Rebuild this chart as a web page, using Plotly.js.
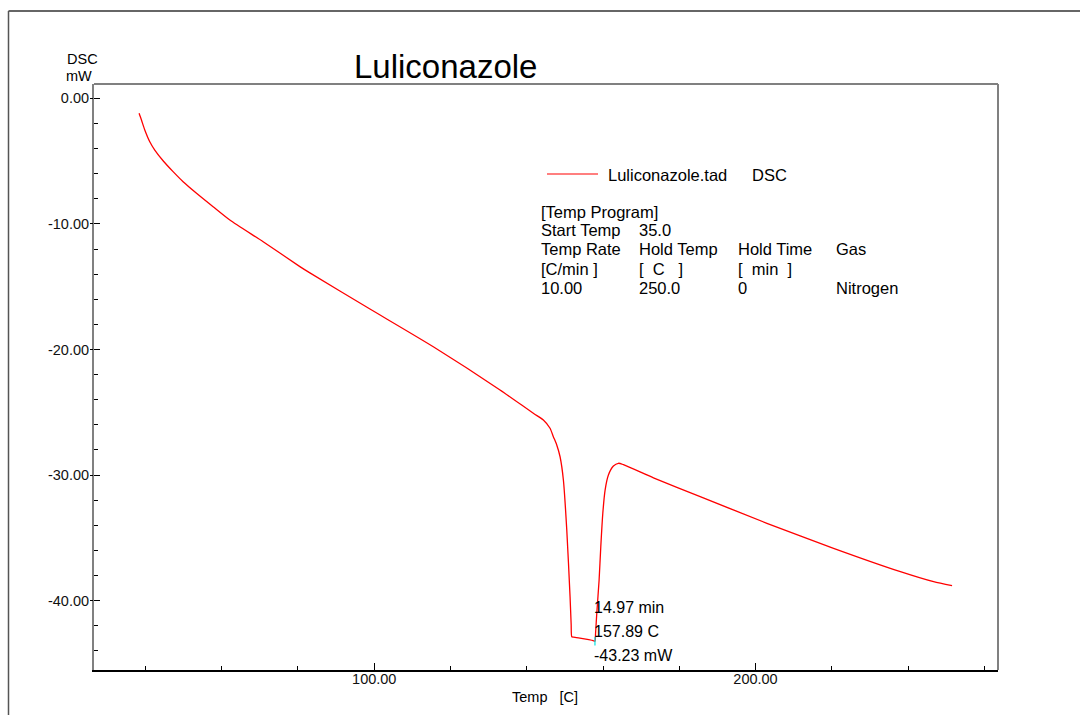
<!DOCTYPE html>
<html>
<head>
<meta charset="utf-8">
<script src="https://cdn.plot.ly/plotly-3.0.1.min.js"></script>
<style>
  html, body { margin: 0; padding: 0; background: #fff; }
  #chart { width: 1080px; height: 715px; }
</style>
</head>
<body>
<div id="chart"></div>
<script>
// ---- Data ----
const temp = [38.32, 38.95, 39.82, 41.13, 42.44, 44.62, 47.24, 49.87, 53.39, 57.74,
  62.13, 70.87, 80.5, 83.12, 98.0, 115.49, 132.99, 141.73, 144.36, 146.11,
  146.98, 147.87, 148.74, 149.61, 150.5, 151.36, 151.65, 151.81, 152.3, 157.4,
  157.89, 158.05, 158.37, 158.98,
  159.42, 159.95, 160.55, 161.42, 162.73, 164.04, 165.35, 173.23, 185.49, 202.99,
  220.47, 238.0, 246.72, 251.55];
const dsc = [-1.19, -1.73, -2.52, -3.46, -4.12, -4.97, -5.84, -6.64, -7.56, -8.63,
  -9.69, -11.42, -13.4, -13.9, -16.62, -19.78, -23.22, -25.08, -25.61, -26.27,
  -26.94, -27.6, -28.54, -30.39, -34.37, -39.68, -41.9, -42.87, -42.9, -43.18,
  -43.23, -42.6, -41.0, -38.35,
  -35.7, -33.04, -31.19, -29.99, -29.28, -29.06, -29.17, -30.22, -31.72, -33.84,
  -35.83, -37.69, -38.49, -38.81];

const peakTemp = [157.89];
const peakDsc = [-43.23];
const peakLabels = ["14.97 min", "157.89 C", "-43.23 mW"];

const yTickVals = [0, -10, -20, -30, -40];
const yTickText = ["0.00", "-10.00", "-20.00", "-30.00", "-40.00"];
const xTickVals = [100, 200];
const xTickText = ["100.00", "200.00"];

const chartTitle = "Luliconazole";
const legendFile = "Luliconazole.tad";
const legendSignal = "DSC";
const yLabelLines = ["DSC", "mW"];
const xLabel = "Temp\u00a0\u00a0\u00a0[C]";

const programTitle = "[Temp Program]";
const startRow = ["Start Temp", "35.0"];
const headRow = ["Temp Rate", "Hold Temp", "Hold Time", "Gas"];
const unitRow = ["[C/min ]", "[\u00a0\u00a0C\u00a0\u00a0\u00a0]", "[\u00a0\u00a0min\u00a0\u00a0]", ""];
const valueRow = ["10.00", "250.0", "0", "Nitrogen"];

// ---- Layout helpers (pixel -> paper) ----
const L = 94, R = 998, T = 84, B = 670;
const px = p => (p - L) / (R - L);
const py = p => (B - p) / (B - T);
const FONT = '"Liberation Sans", Arial, Helvetica, sans-serif';

const ann = [];
function txt(text, x, y, size, anchor) {
  ann.push({
    text: text, xref: 'paper', yref: 'paper', x: px(x), y: py(y),
    xanchor: anchor || 'left', yanchor: 'middle', showarrow: false,
    font: {family: FONT, size: size, color: '#000'}, borderpad: 0
  });
}

txt(chartTitle, 353, 67, 33, 'left');
txt(yLabelLines[0], 82.5, 58.5, 14.5, 'center');
txt(yLabelLines[1], 79, 76, 14.5, 'center');
txt(xLabel, 545, 697, 14.5, 'center');

txt(legendFile, 607, 174.5, 16.5, 'left');
txt(legendSignal, 751, 174.5, 16.5, 'left');

const cols = [539.5, 638, 736.5, 835];
const rows = [211.7, 230, 249.3, 269.3, 287.7];
txt(programTitle, cols[0], rows[0], 16.5, 'left');
startRow.forEach((s, i) => txt(s, cols[i], rows[1], 16.5, 'left'));
headRow.forEach((s, i) => txt(s, cols[i], rows[2], 16.5, 'left'));
unitRow.forEach((s, i) => { if (s) txt(s, cols[i], rows[3], 16.5, 'left'); });
valueRow.forEach((s, i) => txt(s, cols[i], rows[4], 16.5, 'left'));

const peakRows = [607.5, 631.5, 655.5];
peakLabels.forEach((s, i) => txt(s, 593, peakRows[i], 16, 'left'));

const shapes = [
  // outer frame
  {type: 'line', xref: 'paper', yref: 'paper', x0: px(8.5), x1: px(1100), y0: py(11), y1: py(11),
   line: {color: '#333', width: 1.5}},
  {type: 'line', xref: 'paper', yref: 'paper', x0: px(8.5), x1: px(8.5), y0: py(11), y1: py(730),
   line: {color: '#555', width: 1.5}},
  // plot box top & right
  {type: 'line', xref: 'paper', yref: 'paper', x0: 0, x1: 1, y0: 1, y1: 1,
   line: {color: '#808080', width: 2}},
  {type: 'line', xref: 'paper', yref: 'paper', x0: 1, x1: 1, y0: 0, y1: 1,
   line: {color: '#808080', width: 2}},
  // legend line
  {type: 'line', xref: 'paper', yref: 'paper', x0: px(547), x1: px(598), y0: py(174), y1: py(174),
   line: {color: '#ff0000', width: 1.2}}
];

const traces = [
  {x: temp, y: dsc, type: 'scatter', mode: 'lines',
   line: {color: '#ff0000', width: 1.3, shape: 'spline', smoothing: 0.6}, hoverinfo: 'x+y'},
  {x: peakTemp, y: peakDsc, type: 'scatter', mode: 'markers',
   marker: {symbol: 'line-ns-open', size: 6, color: '#00e5e5', line: {color: '#00e5e5', width: 1.2}}},
  // invisible trace to carry the outer part of the y major ticks
  {x: [], y: [], yaxis: 'y2', type: 'scatter', mode: 'lines'}
];

const layout = {
  width: 1080, height: 715,
  margin: {l: L, r: 1080 - R, t: T, b: 715 - B, pad: 0},
  paper_bgcolor: '#fff', plot_bgcolor: '#fff',
  showlegend: false,
  font: {family: FONT, color: '#000'},
  xaxis: {
    range: [26.5, 263.6], showgrid: false, zeroline: false,
    showline: true, linecolor: '#000', linewidth: 2,
    tickmode: 'array', tickvals: xTickVals, ticktext: xTickText,
    ticks: 'inside', ticklen: 7, tickwidth: 1, tickcolor: '#000',
    tickfont: {family: FONT, size: 14.5, color: '#111'},
    ticklabelstandoff: -5,
    minor: {dtick: 20, tick0: 0, ticks: 'inside', ticklen: 4, tickwidth: 1, tickcolor: '#000', showgrid: false}
  },
  yaxis: {
    range: [-45.52, 1.14], showgrid: false, zeroline: false,
    showline: true, linecolor: '#808080', linewidth: 2,
    tickmode: 'array', tickvals: yTickVals, ticktext: yTickText,
    ticks: 'inside', ticklen: 6, tickwidth: 1, tickcolor: '#000',
    tickfont: {family: FONT, size: 14.5, color: '#111'},
    ticklabelstandoff: 0,
    minor: {dtick: 2, tick0: 0, ticks: 'inside', ticklen: 4, tickwidth: 1, tickcolor: '#000', showgrid: false}
  },
  yaxis2: {
    overlaying: 'y', side: 'left', range: [-45.52, 1.14],
    showgrid: false, zeroline: false, showline: false, showticklabels: false,
    tickmode: 'array', tickvals: yTickVals,
    ticks: 'outside', ticklen: 3, tickwidth: 1, tickcolor: '#000'
  },
  shapes: shapes,
  annotations: ann
};

Plotly.newPlot('chart', traces, layout, {displayModeBar: false, staticPlot: true});
</script>
</body>
</html>
